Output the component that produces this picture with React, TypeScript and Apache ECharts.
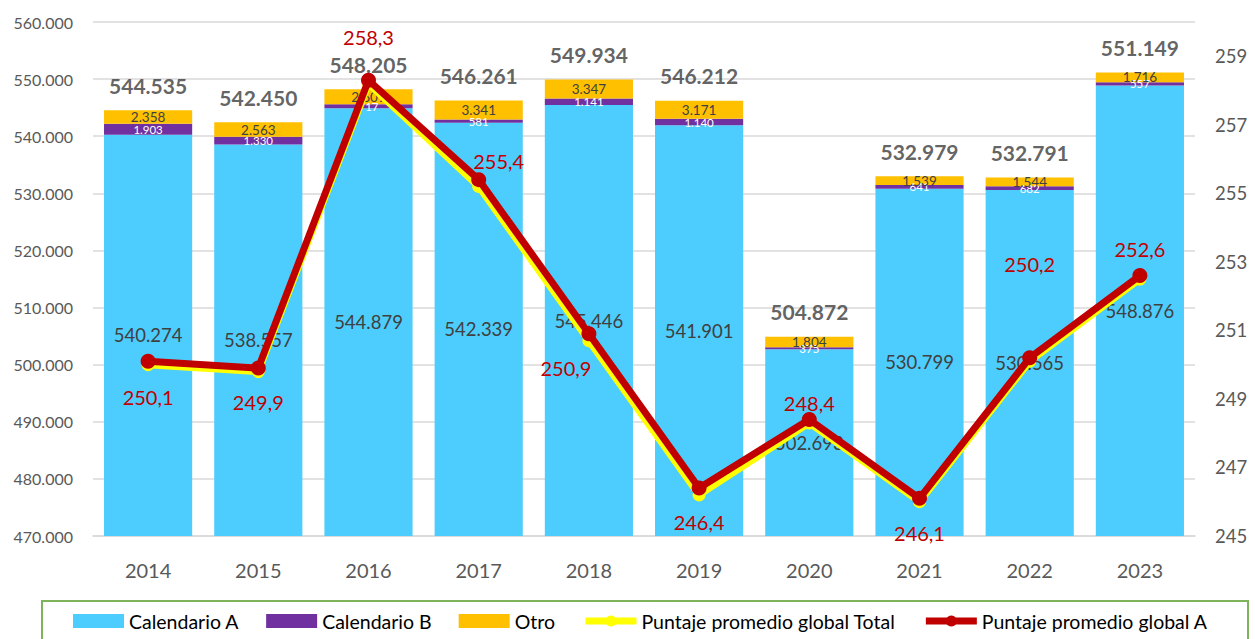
import React, { useEffect, useRef } from "react";
import * as echarts from "echarts";

const years = ["2014", "2015", "2016", "2017", "2018", "2019", "2020", "2021", "2022", "2023"];
const calendarioA = [540274, 538557, 544879, 542339, 545446, 541901, 502693, 530799, 530565, 548876];
const calendarioB = [1903, 1330, 717, 581, 1141, 1140, 375, 641, 682, 557];
const otro = [2358, 2563, 2609, 3341, 3347, 3171, 1804, 1539, 1544, 1716];
const totals = [544535, 542450, 548205, 546261, 549934, 546212, 504872, 532979, 532791, 551149];
const puntajeTotal = [250.0, 249.8, 258.2, 255.2, 250.7, 246.2, 248.3, 246.0, 250.1, 252.5];
const puntajeA = [250.1, 249.9, 258.3, 255.4, 250.9, 246.4, 248.4, 246.1, 250.2, 252.6];

// label offsets (style only) for the red series labels, [dx, dy] from the point
const redLabelOffsets: [number, number][] = [
  [0, 36], [0, 34], [0, -43], [20, -19], [-23, 34], [0, 34], [0, -16], [0, 35], [0, -94], [0, -27],
];

const FONT = "Lato, 'Open Sans', sans-serif";
const thousands = (n: number) => String(Math.round(n)).replace(/\B(?=(\d{3})+(?!\d))/g, ".");
const dec = (v: number) => v.toFixed(1).replace(".", ",");

export default function App() {
  const ref = useRef<HTMLDivElement>(null);
  useEffect(() => {
    if (!ref.current) return;
    const chart = echarts.init(ref.current, undefined, { renderer: "svg" });
    const option: any = {
      animation: false,
      backgroundColor: "#ffffff",
      textStyle: { fontFamily: FONT },
      grid: { left: 93, right: 60, top: 22, bottom: 103, containLabel: false },
      graphic: [
        {
          type: "rect",
          shape: { x: 42, y: 601, width: 1206, height: 50 },
          style: { fill: "none", stroke: "#7FB35A", lineWidth: 2 },
          z: 0,
        },
      ],
      legend: {
        data: [
          { name: "Calendario A", icon: "rect" },
          { name: "Calendario B", icon: "rect" },
          { name: "Otro", icon: "rect" },
          { name: "Puntaje promedio global Total", lineStyle: { width: 7 } },
          { name: "Puntaje promedio global A", lineStyle: { width: 7 } },
        ],
        left: 68,
        top: 606,
        itemWidth: 51,
        itemHeight: 14,
        itemGap: 27,
        textStyle: { fontFamily: FONT, fontSize: 19.5, color: "#000000", padding: [0, 0, 0, 0] },
      },
      xAxis: {
        type: "category",
        data: years,
        axisLine: { show: true, lineStyle: { color: "#D9D9D9", width: 1.5 } },
        axisTick: { show: false },
        axisLabel: { color: "#595959", fontSize: 20, margin: 24, fontFamily: FONT },
      },
      yAxis: [
        {
          type: "value",
          min: 470000,
          max: 560000,
          interval: 10000,
          axisLine: { show: false },
          axisTick: { show: false },
          splitLine: { lineStyle: { color: "#D9D9D9", width: 1.5 } },
          axisLabel: {
            color: "#595959",
            fontSize: 16,
            margin: 20,
            fontFamily: FONT,
            formatter: (v: number) => thousands(v),
          },
        },
        {
          type: "value",
          min: 245,
          max: 260,
          interval: 2,
          position: "right",
          axisLine: { show: false },
          axisTick: { show: false },
          splitLine: { show: false },
          axisLabel: {
            color: "#595959",
            fontSize: 18.5,
            margin: 20,
            fontFamily: FONT,
            showMaxLabel: false,
          },
        },
      ],
      series: [
        {
          name: "Calendario A",
          type: "bar",
          stack: "total",
          barCategoryGap: "20%",
          data: calendarioA,
          itemStyle: { color: "#4DCDFD" },
          label: {
            show: true,
            position: "inside",
            color: "#404040",
            fontSize: 18.5,
            fontFamily: FONT,
            formatter: (p: any) => thousands(p.value),
          },
        },
        {
          name: "Calendario B",
          type: "bar",
          stack: "total",
          data: calendarioB,
          itemStyle: { color: "#7030A0" },
          label: {
            show: true,
            position: "inside",
            color: "#ffffff",
            fontSize: 11.5,
            fontFamily: FONT,
            formatter: (p: any) => thousands(p.value),
          },
        },
        {
          name: "Otro",
          type: "bar",
          stack: "total",
          data: otro,
          itemStyle: { color: "#FFC000" },
          label: {
            show: true,
            position: "inside",
            color: "#404040",
            fontSize: 13.5,
            fontFamily: FONT,
            formatter: (p: any) => thousands(p.value),
          },
        },
        {
          name: "Totales",
          type: "scatter",
          data: totals,
          symbolSize: 1,
          itemStyle: { color: "rgba(0,0,0,0)" },
          z: 5,
          label: {
            show: true,
            position: "top",
            distance: 14,
            color: "#3A3A3A",
            fontSize: 21,
            fontWeight: "bold",
            fontFamily: FONT,
            formatter: (p: any) => thousands(p.value),
          },
        },
        {
          name: "Puntaje promedio global Total",
          type: "line",
          yAxisIndex: 1,
          data: puntajeTotal,
          symbol: "circle",
          symbolSize: 13,
          lineStyle: { color: "#FFFF00", width: 7 },
          itemStyle: { color: "#FFFF00" },
          z: 6,
        },
        {
          name: "Puntaje promedio global A",
          type: "line",
          yAxisIndex: 1,
          data: puntajeA.map((v, i) => ({
            value: v,
            label: { offset: redLabelOffsets[i] },
          })),
          symbol: "circle",
          symbolSize: 15,
          lineStyle: { color: "#C00000", width: 7 },
          itemStyle: { color: "#C00000" },
          z: 7,
          label: {
            show: true,
            position: "inside",
            color: "#C00000",
            fontSize: 20,
            fontFamily: FONT,
            formatter: (p: any) => dec(p.value),
          },
        },
      ],
    };
    chart.setOption(option);
    return () => chart.dispose();
  }, []);
  return (
    <div
      ref={ref}
      style={{ position: "fixed", left: 0, top: 0, width: 1255, height: 639, background: "#fff" }}
    />
  );
}
